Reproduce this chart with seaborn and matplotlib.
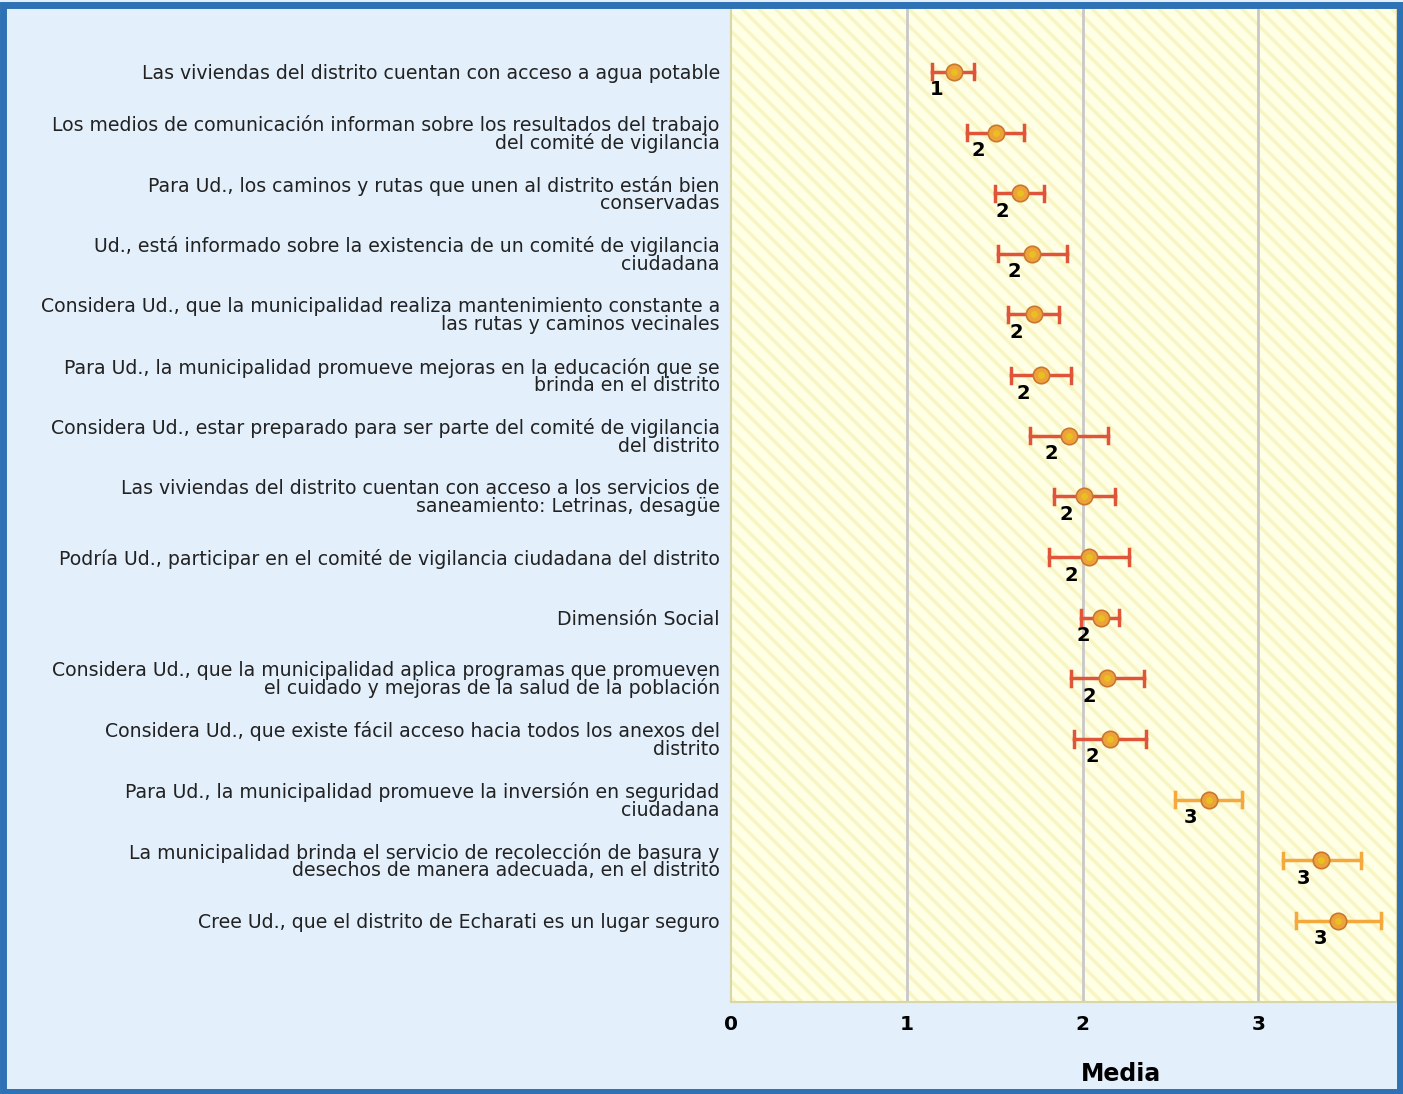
import pandas as pd
import seaborn as sns
import matplotlib.pyplot as plt
from matplotlib.patches import Rectangle

# Items (in display order, top to bottom)
items = [
    "Las viviendas del distrito cuentan con acceso a agua potable",
    "Los medios de comunicación informan sobre los resultados del trabajo\ndel comité de vigilancia",
    "Para Ud., los caminos y rutas que unen al distrito están bien\nconservadas",
    "Ud., está informado sobre la existencia de un comité de vigilancia\nciudadana",
    "Considera Ud., que la municipalidad realiza mantenimiento constante a\nlas rutas y caminos vecinales",
    "Para Ud., la municipalidad promueve mejoras en la educación que se\nbrinda en el distrito",
    "Considera Ud., estar preparado para ser parte del comité de vigilancia\ndel distrito",
    "Las viviendas del distrito cuentan con acceso a los servicios de\nsaneamiento: Letrinas, desagüe",
    "Podría Ud., participar en el comité de vigilancia ciudadana del distrito",
    "Dimensión Social",
    "Considera Ud., que la municipalidad aplica programas que promueven\nel cuidado y mejoras de la salud de la población",
    "Considera Ud., que existe fácil acceso hacia todos los anexos del\ndistrito",
    "Para Ud., la municipalidad promueve la inversión en seguridad\nciudadana",
    "La municipalidad brinda el servicio de recolección de basura y\ndesechos de manera adecuada, en el distrito",
    "Cree Ud., que el distrito de Echarati es un lugar seguro",
]
means = [1.27, 1.51, 1.645, 1.713, 1.724, 1.764, 1.923, 2.008, 2.036, 2.104,
         2.138, 2.155, 2.717, 3.358, 3.454]
lower = [1.146, 1.344, 1.503, 1.52, 1.577, 1.594, 1.702, 1.838, 1.809, 1.991,
         1.934, 1.951, 2.524, 3.137, 3.216]
upper = [1.384, 1.668, 1.781, 1.91, 1.866, 1.934, 2.144, 2.184, 2.263, 2.206,
         2.348, 2.36, 2.904, 3.585, 3.698]
labels = [1, 2, 2, 2, 2, 2, 2, 2, 2, 2, 2, 2, 3, 3, 3]
groups = ["bajo"] * 12 + ["alto"] * 3

# long form: lower / mean / upper per item -> median = mean, 100% interval = CI
rows = []
for it, lo, m, hi, g in zip(items, lower, means, upper, groups):
    for v in (lo, m, hi):
        rows.append({"item": it, "valor": v, "grupo": g})
df = pd.DataFrame(rows)
pts = pd.DataFrame({"item": items, "media": means, "pos": range(len(items))})

bg = "#e3effb"
palette = {"bajo": "#e0553a", "alto": "#f5a83c"}

plt.rcParams["font.family"] = ["DejaVu Sans"]
plt.rcParams["hatch.linewidth"] = 2.5
plt.rcParams["hatch.color"] = "#f8f5c2"
fig = plt.figure(figsize=(14.03, 10.94), dpi=100, facecolor=bg)
ax = fig.add_axes([0.521, 0.084, 0.475, 0.9096])
ax.set_facecolor("#ffffe6")

# hatch background
ax.add_patch(Rectangle((0, 0), 1, 1, transform=ax.transAxes, facecolor="#ffffe6",
                       edgecolor="#f8f5c2", hatch="\\\\", linewidth=0, zorder=0))

for gx in [1, 2, 3]:
    ax.axvline(gx, color="#c8c8c8", linewidth=2, zorder=1)

sns.pointplot(data=df, x="valor", y="item", hue="grupo", order=items,
              estimator="median", errorbar=("pi", 100), palette=palette,
              linestyle="none", markers="o", markersize=0, capsize=0.25,
              err_kws={"linewidth": 2.5, "zorder": 3}, legend=False, ax=ax)

sns.scatterplot(data=pts, x="media", y="pos", s=140, color="#eda33a",
                edgecolor="#c9772e", linewidth=1.2, zorder=4, legend=False, ax=ax)
sns.scatterplot(data=pts, x="media", y="pos", s=25, color="#e8c020",
                linewidth=0, zorder=5, legend=False, ax=ax)

for m, p, lab in zip(means, pts["pos"], labels):
    ax.annotate(str(lab), (m, p), xytext=(-13, -13), textcoords="offset points",
                ha="center", va="center", fontsize=14, fontweight="bold",
                color="black", zorder=6)

ax.set_xlim(0, 3.79)
ax.set_ylim(15.34, -1.07)
ax.set_xticks([0, 1, 2, 3])
ax.set_xticklabels(["0", "1", "2", "3"], fontsize=14.5, fontweight="bold")
ax.tick_params(axis="both", length=0)
ax.tick_params(axis="x", pad=9)
ax.tick_params(axis="y", pad=8)
for lab in ax.get_yticklabels():
    lab.set_fontsize(13.6)
    lab.set_linespacing(0.9)
    lab.set_color("#222222")
ax.set_ylabel("")
ax.set_xlabel("Media", fontsize=17, fontweight="bold")
ax.xaxis.set_label_coords(0.586, -0.06)
for s in ax.spines.values():
    s.set_color("#d9d7a8")
    s.set_linewidth(1.5)

# blue frame
fig.patches.append(Rectangle((0.002, 0.002), 0.996, 0.993, transform=fig.transFigure,
                             fill=False, edgecolor="#2e72b5", linewidth=5, zorder=10))

plt.savefig("out.png", dpi=100, facecolor=bg)
